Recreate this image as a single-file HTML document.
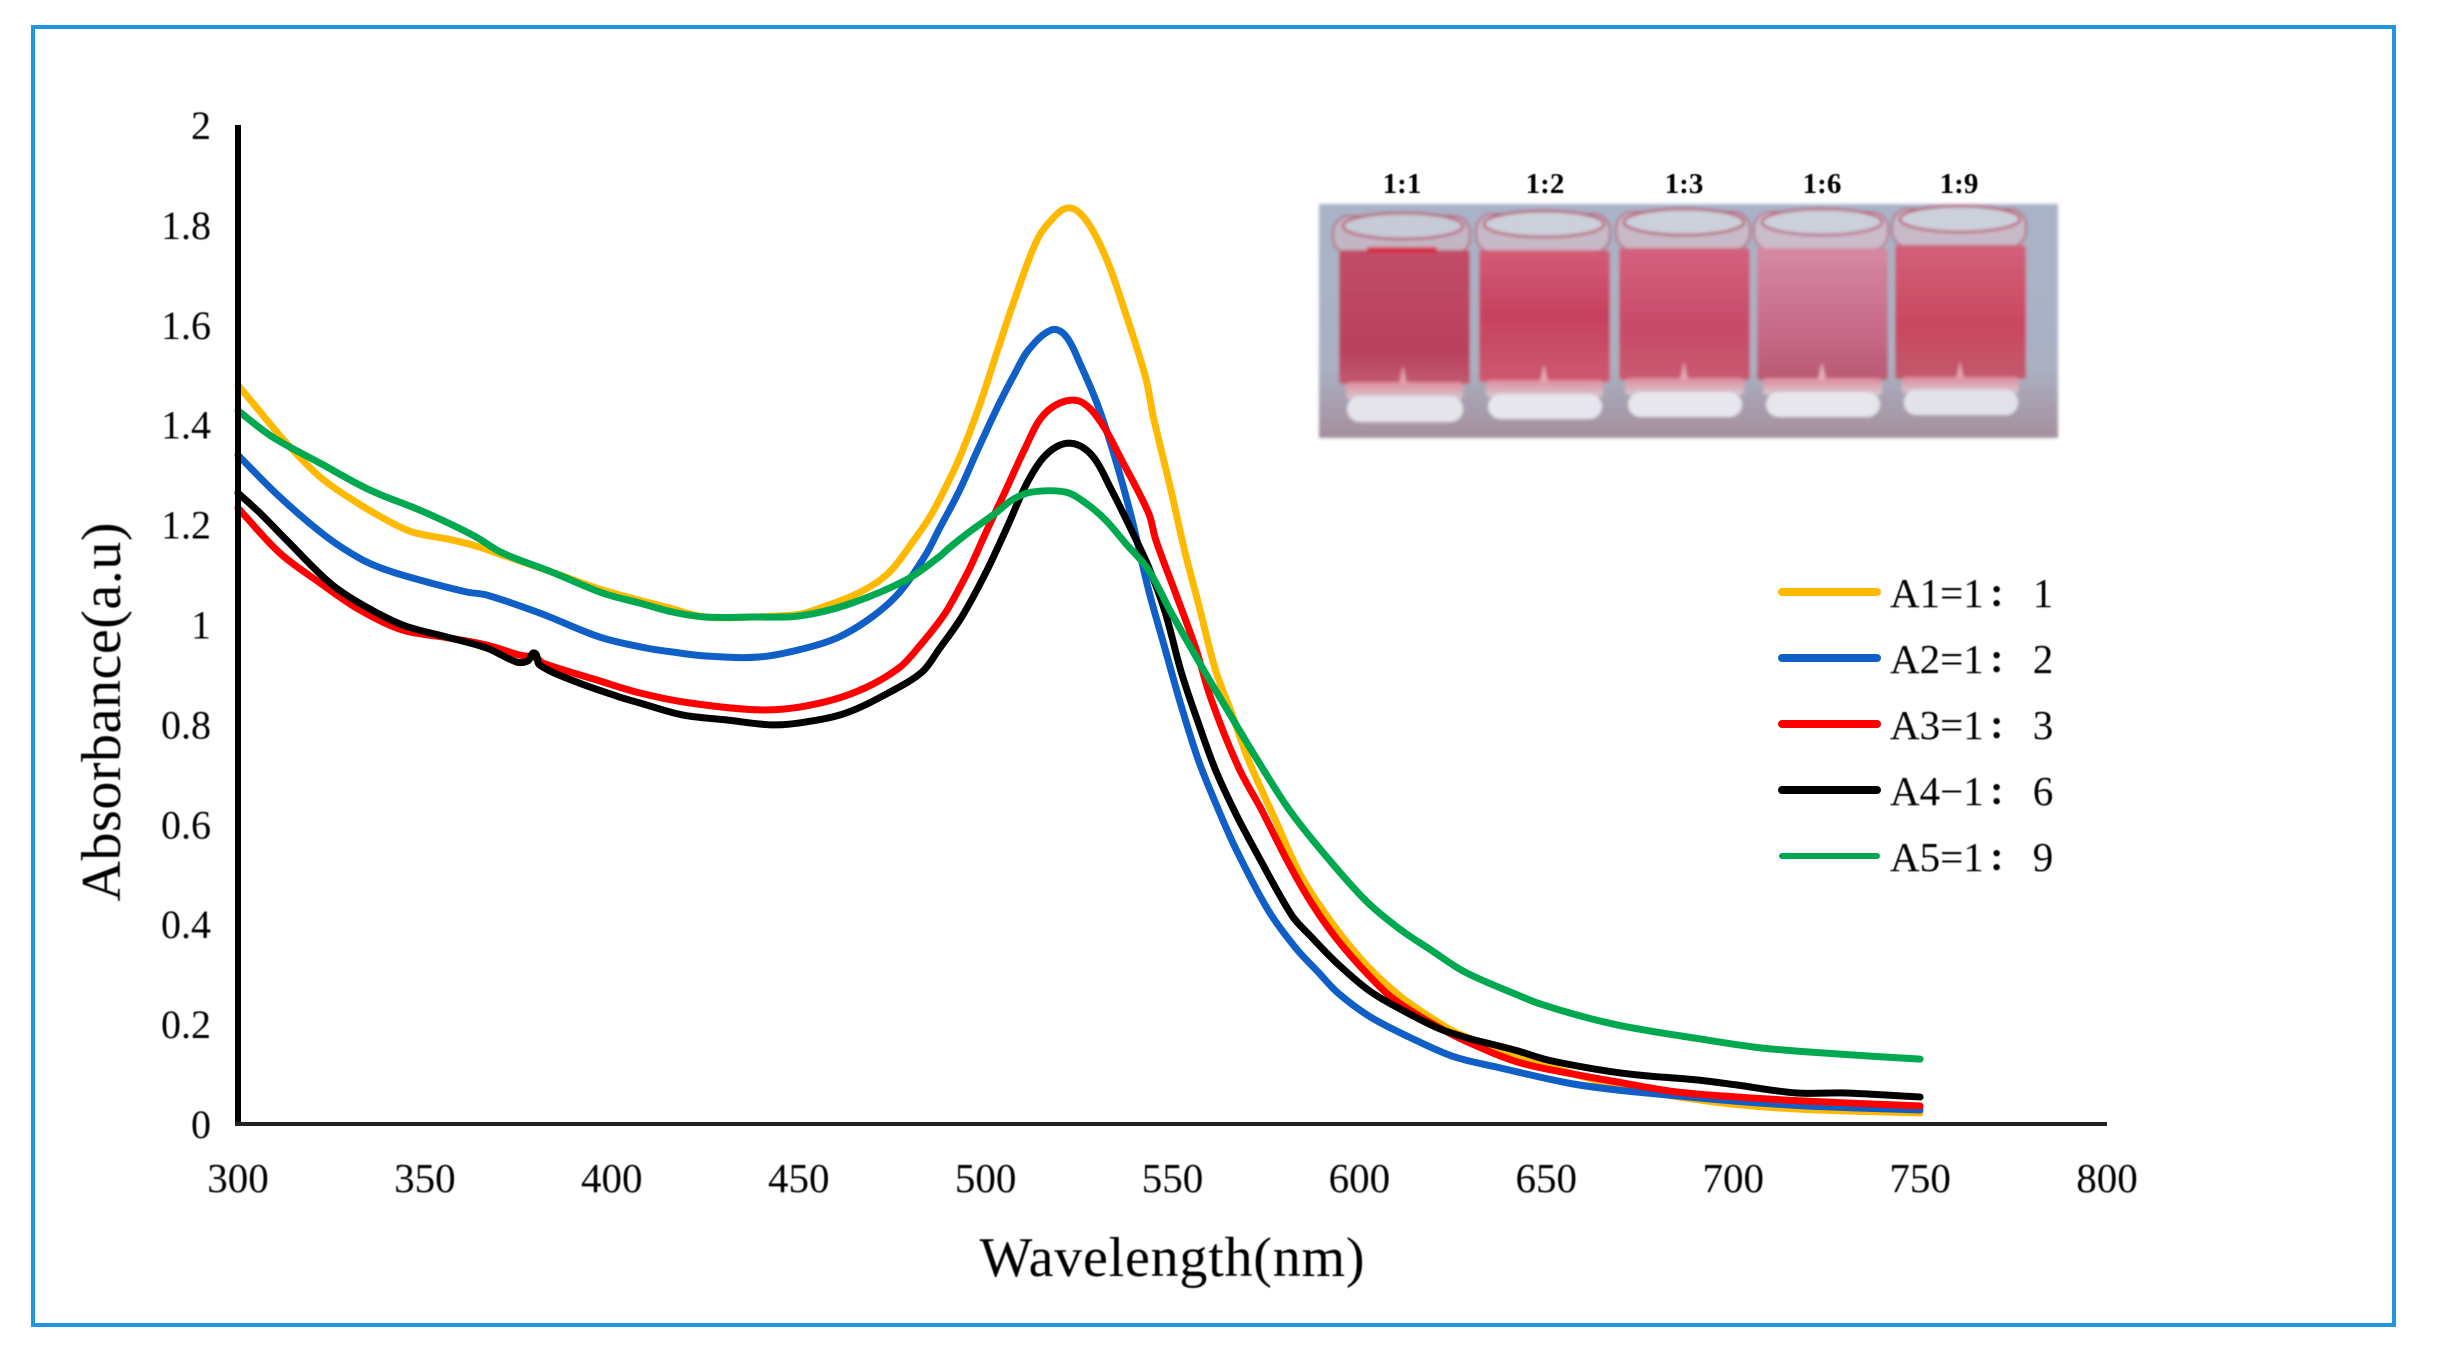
<!DOCTYPE html>
<html lang="en">
<head>
<meta charset="utf-8">
<title>Absorbance spectra</title>
<style>
  html, body { margin: 0; padding: 0; background: #ffffff; }
  body { width: 2440px; height: 1360px; overflow: hidden; }
  svg { display: block; }
  text { font-family: "Liberation Serif", "Noto Serif CJK SC", serif; fill: #000; }
</style>
</head>
<body>
<svg id="chart" xmlns="http://www.w3.org/2000/svg" width="2440" height="1360" viewBox="0 0 2440 1360">
  <defs>
    <filter id="soft" x="-5%" y="-5%" width="110%" height="110%"><feGaussianBlur stdDeviation="1.6"/></filter>
    <filter id="softText" x="-5%" y="-5%" width="110%" height="110%"><feGaussianBlur stdDeviation="0.6"/></filter>
    <linearGradient id="photoBg" x1="0" y1="0" x2="0" y2="1">
      <stop offset="0" stop-color="#a9b3c8"/><stop offset="0.7" stop-color="#aab0c2"/><stop offset="1" stop-color="#a58f9d"/>
    </linearGradient>
    <linearGradient id="liq1" x1="0" y1="0" x2="0" y2="1"><stop offset="0" stop-color="#c24d68"/><stop offset="0.75" stop-color="#b8405e"/><stop offset="1" stop-color="#c25a70"/></linearGradient>
    <linearGradient id="liq2" x1="0" y1="0" x2="0" y2="1"><stop offset="0" stop-color="#d15d77"/><stop offset="0.5" stop-color="#c6415f"/><stop offset="1" stop-color="#cc5a70"/></linearGradient>
    <linearGradient id="liq3" x1="0" y1="0" x2="0" y2="1"><stop offset="0" stop-color="#d3627f"/><stop offset="0.6" stop-color="#c84a69"/><stop offset="1" stop-color="#c85a70"/></linearGradient>
    <linearGradient id="liq4" x1="0" y1="0" x2="0" y2="1"><stop offset="0" stop-color="#d58aa2"/><stop offset="0.5" stop-color="#c9708e"/><stop offset="1" stop-color="#bb5a74"/></linearGradient>
    <linearGradient id="liq5" x1="0" y1="0" x2="0" y2="1"><stop offset="0" stop-color="#d2617a"/><stop offset="0.6" stop-color="#c9485f"/><stop offset="1" stop-color="#c25a6c"/></linearGradient>
    <linearGradient id="lowerGlass" x1="0" y1="0" x2="0" y2="1"><stop offset="0" stop-color="#de8a9b"/><stop offset="1" stop-color="#d9c9d2"/></linearGradient>
  </defs>

  <rect x="33" y="27" width="2361" height="1298" fill="#ffffff" stroke="#1f96dd" stroke-width="4"/>

  <g id="plot"></g>

  <g>
    <g filter="url(#soft)">
      <rect x="1319" y="204" width="739" height="234" fill="url(#photoBg)"/>

      <g transform="translate(1339 0)">
        <rect x="-6" y="216" width="137" height="38" rx="16" fill="#c3b6c4" stroke="#b56a80" stroke-width="2"/>
        <ellipse cx="64" cy="226" rx="60" ry="13" fill="#c6cbd7" stroke="#b9576f" stroke-width="2.5"/>
        <rect x="0" y="250" width="131" height="134" rx="3" fill="url(#liq1)"/>
        <rect x="28" y="247" width="70" height="6" fill="#d62f48"/>
        <rect x="7" y="382" width="117" height="17" rx="4" fill="url(#lowerGlass)"/>
        <path d="M60 384 L64 366 L68 384 Z" fill="#e4a0ae"/>
        <rect x="8" y="396" width="116" height="26" rx="13" fill="#e4e4ea"/>
      </g>
      <g transform="translate(1479 0)">
        <rect x="-3" y="214" width="134" height="38" rx="16" fill="#c7b9c7" stroke="#b56a80" stroke-width="2"/>
        <ellipse cx="65" cy="224" rx="60" ry="13" fill="#cbd0db" stroke="#b9576f" stroke-width="2.5"/>
        <rect x="0" y="250" width="131" height="132" rx="3" fill="url(#liq2)"/>
        <rect x="7" y="380" width="117" height="17" rx="4" fill="url(#lowerGlass)"/>
        <path d="M61 382 L65 364 L69 382 Z" fill="#e6a6b2"/>
        <rect x="9" y="394" width="114" height="25" rx="13" fill="#e6e6ec"/>
      </g>
      <g transform="translate(1619 0)">
        <rect x="-3" y="212" width="134" height="38" rx="16" fill="#c7b9c7" stroke="#b56a80" stroke-width="2"/>
        <ellipse cx="65" cy="222" rx="60" ry="13" fill="#cbd0db" stroke="#b9576f" stroke-width="2.5"/>
        <rect x="0" y="248" width="131" height="132" rx="3" fill="url(#liq3)"/>
        <rect x="6" y="378" width="119" height="17" rx="4" fill="url(#lowerGlass)"/>
        <path d="M61 380 L65 362 L69 380 Z" fill="#e6a6b2"/>
        <rect x="9" y="392" width="114" height="25" rx="13" fill="#e6e6ec"/>
      </g>
      <g transform="translate(1757 0)">
        <rect x="-3" y="212" width="134" height="38" rx="16" fill="#cabccb" stroke="#b86f88" stroke-width="2"/>
        <ellipse cx="65" cy="222" rx="60" ry="13" fill="#cbd0db" stroke="#bb5f79" stroke-width="2.5"/>
        <rect x="0" y="248" width="131" height="132" rx="3" fill="url(#liq4)"/>
        <rect x="6" y="378" width="119" height="17" rx="4" fill="url(#lowerGlass)"/>
        <path d="M61 380 L65 362 L69 380 Z" fill="#e6b0bd"/>
        <rect x="9" y="392" width="114" height="25" rx="13" fill="#e6e6ec"/>
      </g>
      <g transform="translate(1895 0)">
        <rect x="-3" y="209" width="134" height="38" rx="16" fill="#c7b9c7" stroke="#b56a80" stroke-width="2"/>
        <ellipse cx="65" cy="219" rx="60" ry="13" fill="#cbd0db" stroke="#b9576f" stroke-width="2.5"/>
        <rect x="0" y="245" width="131" height="134" rx="3" fill="url(#liq5)"/>
        <rect x="7" y="377" width="117" height="16" rx="4" fill="url(#lowerGlass)"/>
        <path d="M61 379 L65 361 L69 379 Z" fill="#e4a0ae"/>
        <rect x="9" y="390" width="114" height="25" rx="12" fill="#e2e3e9"/>
      </g>
    </g>
    <g font-size="29" font-weight="bold" text-anchor="middle" filter="url(#softText)">
      <text x="1402" y="193">1:1</text>
      <text x="1545" y="193">1:2</text>
      <text x="1684" y="193">1:3</text>
      <text x="1822" y="193">1:6</text>
      <text x="1959" y="193">1:9</text>
    </g>
  </g>

  <text transform="translate(120 712) rotate(-90)" font-size="56" text-anchor="middle" textLength="379" filter="url(#softText)">Absorbance(a.u)</text>
  <text x="1172" y="1276" font-size="56" text-anchor="middle" textLength="385" filter="url(#softText)">Wavelength(nm)</text>
</svg>

<script>
// Chart data
const xTickLabels = ['300','350','400','450','500','550','600','650','700','750','800'];
const yTickLabels = ['0','0.2','0.4','0.6','0.8','1','1.2','1.4','1.6','1.8','2'];

const a1Wavelength = [300,304,313,322,330.7,339.8,346.7,357.4,364.6,370.8,384,397.5,415.4,425,437.6,450,454.6,466,474,481.4,484.8,487.5,492.8,498.2,503.5,508,513.4,516.9,522.2,526.8,532.1,537.4,542.8,544.9,549.7,553.5,556.9,561.5,565.8,570.3,577.5,584.5,593.5,602.4,611.2,620.2,625.6,640,651,670,695,717,750];
const a1Absorbance = [1.479,1.443,1.363,1.295,1.249,1.209,1.185,1.169,1.155,1.139,1.105,1.069,1.033,1.015,1.015,1.02,1.03,1.063,1.103,1.175,1.212,1.248,1.33,1.435,1.556,1.656,1.764,1.804,1.834,1.81,1.736,1.624,1.495,1.415,1.265,1.14,1.043,0.909,0.823,0.729,0.609,0.495,0.394,0.314,0.254,0.208,0.184,0.14,0.114,0.075,0.044,0.03,0.022];

const a2Wavelength = [300,311.2,323.8,333.4,339.8,348.6,361.2,366.5,380.7,396.7,409.2,416.2,425.3,439.4,452,460.8,469.6,476.8,484,487.5,492.8,498.2,503.5,508,511.5,517.7,521.4,525.7,530.2,534.8,539,543.6,548.1,552.4,556.9,561.5,566.8,575.6,583,589,594.3,603,615,625.6,637.9,655.8,669,682.5,700,720,750];
const a2Absorbance = [1.339,1.255,1.175,1.129,1.109,1.089,1.065,1.059,1.023,0.975,0.953,0.945,0.937,0.935,0.953,0.975,1.015,1.063,1.14,1.19,1.265,1.355,1.44,1.505,1.55,1.59,1.578,1.515,1.435,1.329,1.215,1.069,0.949,0.835,0.729,0.643,0.553,0.428,0.352,0.304,0.262,0.214,0.168,0.134,0.112,0.082,0.068,0.058,0.046,0.036,0.028];

const a3Wavelength = [300,311.2,322,332.6,344,356.6,366.5,375.3,379.9,381.5,395.9,407.4,420.7,439.4,452,465.3,476.8,483,487.5,490.2,495.5,500,505.4,510.7,515,520.4,525.7,531,536.4,543.6,545.5,550.8,556.1,560.4,567.6,573.8,581,587.2,594,602.4,609.5,620.2,629,642.4,655.8,669,685,701.2,719,750];
const a3Absorbance = [1.233,1.143,1.083,1.029,0.989,0.973,0.959,0.939,0.933,0.923,0.889,0.863,0.843,0.829,0.837,0.865,0.913,0.963,1.005,1.035,1.109,1.183,1.269,1.355,1.415,1.445,1.445,1.403,1.329,1.223,1.17,1.063,0.955,0.849,0.715,0.629,0.523,0.442,0.37,0.298,0.248,0.198,0.164,0.124,0.102,0.084,0.064,0.054,0.046,0.036];

const a4Wavelength = [300,305.9,313,324.6,333.4,344,355.8,366.5,374.5,377.5,379.3,380.7,390.5,402,407.4,418.9,430.6,443,452,462.7,474,483,487.5,493.6,500,505.4,511.5,516.9,522.8,528.4,533.7,539,543.6,548.1,552.4,556.9,561.5,566.8,571.6,581.9,587.2,594,602.4,609,621,629,641.6,650.5,664.6,674.5,690.5,701,717,730,750];
const a4Absorbance = [1.263,1.223,1.169,1.083,1.039,0.999,0.975,0.953,0.925,0.927,0.943,0.919,0.885,0.855,0.843,0.819,0.809,0.799,0.805,0.823,0.863,0.905,0.95,1.015,1.103,1.189,1.289,1.345,1.363,1.339,1.269,1.189,1.115,1.023,0.903,0.803,0.709,0.623,0.555,0.418,0.374,0.322,0.268,0.238,0.192,0.172,0.148,0.128,0.108,0.098,0.088,0.078,0.062,0.062,0.054];

const a5Wavelength = [300,309.3,322,335.3,348.6,362.8,370.8,384,397.5,407.4,416.2,425,437.6,450,462.7,478.7,487.5,490.2,496.3,502.7,507,512.3,521.4,526.8,532.1,537.4,543.6,549.7,558.8,564.2,572.2,581.8,593.5,602.4,611.2,618.4,628.3,642.4,648.5,660.3,671.8,689.7,705.7,717,736.7,750];
const a5Absorbance = [1.428,1.375,1.323,1.269,1.229,1.179,1.143,1.105,1.063,1.043,1.025,1.015,1.015,1.017,1.039,1.089,1.135,1.153,1.189,1.223,1.249,1.265,1.265,1.243,1.209,1.163,1.109,1.023,0.903,0.835,0.735,0.623,0.515,0.442,0.388,0.352,0.304,0.258,0.24,0.214,0.194,0.172,0.154,0.146,0.136,0.13];

const seriesKeys = ['a1','a2','a3','a4','a5'];
const legendNames = ['A1=1','A2=1','A3=1','A4\u22121','A5=1'];
const legendRatios = ['1','2','3','6','9'];

const seriesX = [a1Wavelength, a2Wavelength, a3Wavelength, a4Wavelength, a5Wavelength];
const seriesY = [a1Absorbance, a2Absorbance, a3Absorbance, a4Absorbance, a5Absorbance];
const seriesColors = ['#ffb900','#0f5fc6','#ff0000','#000000','#00a94f'];

// Axis functions
const plotLeft = 238, plotRight = 2107, plotTop = 125, plotBottom = 1124;
const xMin = 300, xMax = 800, yMin = 0, yMax = 2;
function xScale(w) { return plotLeft + (w - xMin) / (xMax - xMin) * (plotRight - plotLeft); }
function yScale(v) { return plotBottom - (v - yMin) / (yMax - yMin) * (plotBottom - plotTop); }

const NS = 'http://www.w3.org/2000/svg';
const plot = document.getElementById('plot');
function addEl(parent, tag, props) {
  const el = document.createElementNS(NS, tag);
  for (const k in props) el.setAttribute(k, props[k]);
  parent.appendChild(el);
  return el;
}

// Smooth curve through the scaled points; tangents are limited by segment length
function curvePath(xs, ys) {
  const pts = xs.map(function (x, j) { return [xScale(x), yScale(ys[j])]; });
  function tangent(j) {
    const a = pts[Math.max(j - 1, 0)], b = pts[Math.min(j + 1, pts.length - 1)];
    const dx = b[0] - a[0], dy = b[1] - a[1], len = Math.hypot(dx, dy) || 1;
    return [dx / len, dy / len];
  }
  let d = 'M' + pts[0][0].toFixed(1) + ' ' + pts[0][1].toFixed(1);
  for (let j = 0; j < pts.length - 1; j++) {
    const p = pts[j], q = pts[j + 1];
    const seg = Math.hypot(q[0] - p[0], q[1] - p[1]) / 3;
    const t0 = tangent(j), t1 = tangent(j + 1);
    d += 'C' + (p[0] + t0[0] * seg).toFixed(1) + ' ' + (p[1] + t0[1] * seg).toFixed(1) + ' ' +
         (q[0] - t1[0] * seg).toFixed(1) + ' ' + (q[1] - t1[1] * seg).toFixed(1) + ' ' +
         q[0].toFixed(1) + ' ' + q[1].toFixed(1);
  }
  return d;
}

// Curves
seriesKeys.forEach(function (key, i) {
  const curve = addEl(plot, 'path', { d: curvePath(seriesX[i], seriesY[i]), fill: 'none', stroke: seriesColors[i], 'stroke-width': 7, 'stroke-linejoin': 'round', 'stroke-linecap': 'round' });
  
  
});

// Axes
const yAxis = addEl(plot, 'line', { x1: plotLeft, y1: plotTop, x2: plotLeft, y2: plotBottom + 2, stroke: '#000', 'stroke-width': 6 });


const xAxis = addEl(plot, 'line', { x1: plotLeft - 3, y1: plotBottom, x2: plotRight, y2: plotBottom, stroke: '#222', 'stroke-width': 4 });



// Tick labels
xTickLabels.forEach(function (label) {
  const t = addEl(plot, 'text', { x: xScale(Number(label)), y: 1192, 'font-size': 41, 'text-anchor': 'middle', filter: 'url(#softText)' });
  t.textContent = label;
  
  
});
yTickLabels.forEach(function (label) {
  const t = addEl(plot, 'text', { x: 211, y: yScale(Number(label)) + 14, 'font-size': 40, 'text-anchor': 'end', filter: 'url(#softText)' });
  t.textContent = label;
  
  
});

// Legend
const legendTop = 592, legendStep = 66;
legendNames.forEach(function (name, i) {
  const y = legendTop + i * legendStep;
  const swatch = addEl(plot, 'line', { x1: 1782, y1: y, x2: 1877, y2: y, stroke: seriesColors[i], 'stroke-width': i === 4 ? 6 : 8, 'stroke-linecap': 'round' });
  
  
  const label = addEl(plot, 'text', { x: 1890, y: y + 15, 'font-size': 41, filter: 'url(#softText)' });
  label.textContent = name;
  
  
  const colon = addEl(plot, 'text', { x: 1987, y: y + 15, 'font-size': 36, 'font-weight': 'bold', filter: 'url(#softText)' });
  colon.textContent = '\uFF1A';
  
  
  const ratio = addEl(plot, 'text', { x: 2043, y: y + 15, 'font-size': 41, 'text-anchor': 'middle', filter: 'url(#softText)' });
  ratio.textContent = legendRatios[i];
  
  
});
</script>
</body>
</html>
